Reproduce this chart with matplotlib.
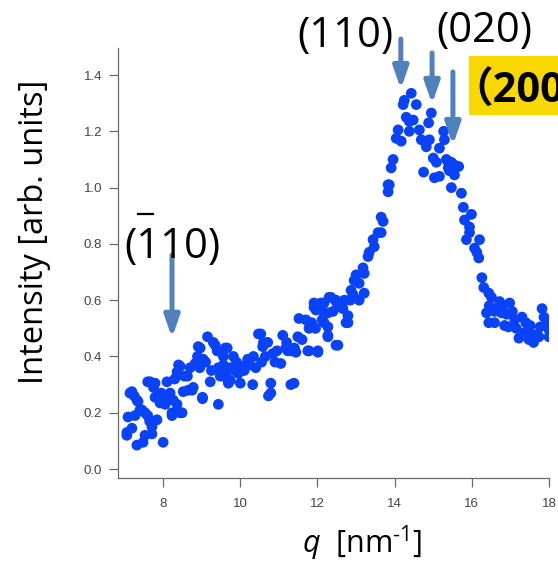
import matplotlib.pyplot as plt
from matplotlib.lines import Line2D
from matplotlib.patches import Rectangle

plt.rcParams['font.family'] = ['Open Sans', 'Noto Sans CJK SC', 'DejaVu Sans']
plt.rcParams['mathtext.fontset'] = 'custom'
plt.rcParams['mathtext.rm'] = 'Open Sans'
plt.rcParams['mathtext.it'] = 'Open Sans:italic'

# scattering vector q [nm^-1] and intensity [arb. units]
q = [7.06, 7.06, 7.09, 7.14, 7.19, 7.19, 7.27, 7.32, 7.32, 7.35, 7.40, 7.48, 7.53, 7.53,
     7.60, 7.60, 7.66, 7.71, 7.71, 7.79, 7.79, 7.84, 7.87, 7.92, 8.00,
     7.25, 7.45, 7.65, 7.75, 7.95,
     8.05, 8.10, 8.13, 8.23, 8.26, 8.23, 8.36, 8.36, 8.40, 8.44, 8.44, 8.49, 8.52, 8.63,
     8.65, 8.75, 8.78, 8.83, 8.89, 8.91, 8.96, 9.02, 9.02, 9.04,
     8.18, 8.30, 8.55, 8.70, 8.95,
     9.15, 9.22, 9.30, 9.35, 9.43, 9.43, 9.48, 9.56, 9.56, 9.61, 9.61, 9.66, 9.66, 9.69,
     9.74, 9.74, 9.82, 9.95, 10.00, 10.00,
     9.10, 9.25, 9.40, 9.50, 9.85, 9.90,
     10.19, 10.19, 10.32, 10.34, 10.47, 10.53, 10.58, 10.60, 10.71, 10.73, 10.79, 10.79,
     10.84, 11.05,
     10.10, 10.25, 10.40, 10.55, 10.65, 10.90, 10.95,
     11.10, 11.18, 11.23, 11.31, 11.31, 11.39, 11.44, 11.49, 11.52, 11.75, 11.78, 11.78,
     11.91, 11.91, 11.96, 12.01, 12.01,
     11.20, 11.40, 11.60, 11.70, 11.85, 11.95,
     12.09, 12.09, 12.17, 12.17, 12.17, 12.27, 12.27, 12.27, 12.27, 12.30, 12.35, 12.48,
     12.48, 12.48, 12.53, 12.61, 12.61, 12.66, 12.74, 12.79, 12.79, 12.87, 12.92, 12.95,
     12.12, 12.40, 12.55, 12.70, 12.85,
     13.00, 13.08, 13.08, 13.18, 13.21, 13.21, 13.31, 13.34, 13.44, 13.47, 13.57, 13.65,
     13.65, 13.70, 13.83, 13.83, 13.86, 13.91, 13.96,
     14.04, 14.09, 14.17, 14.22, 14.25, 14.30, 14.38, 14.38, 14.43, 14.48, 14.56, 14.64,
     14.69, 14.75, 14.82, 14.88, 14.90, 14.95, 15.00,
     15.03, 15.08, 15.16, 15.16, 15.27, 15.29, 15.34, 15.39, 15.39, 15.42, 15.47, 15.47,
     15.55, 15.55, 15.66, 15.73, 15.78, 15.81, 15.86, 15.94, 15.94, 15.99,
     16.07, 16.13, 16.18, 16.20, 16.26, 16.31, 16.38, 16.44, 16.44, 16.51, 16.59, 16.59,
     16.72, 16.77, 16.85, 16.95, 16.98,
     16.45, 16.62, 16.80, 16.90,
     17.11, 17.22, 17.30, 17.37, 17.48, 17.51, 17.60, 17.64, 17.74, 17.77, 17.82, 17.87,
     18.00, 18.00,
     17.05, 17.15, 17.40, 17.55, 17.95]
intensity = [0.120, 0.130, 0.185, 0.270, 0.145, 0.275, 0.190, 0.245, 0.085, 0.240, 0.210,
             0.095, 0.200, 0.120, 0.190, 0.310, 0.310, 0.150, 0.125, 0.305, 0.255, 0.175,
             0.255, 0.235, 0.095,
             0.260, 0.210, 0.170, 0.290, 0.270,
             0.230, 0.310, 0.245, 0.190, 0.245, 0.200, 0.345, 0.230, 0.370, 0.200, 0.365,
             0.200, 0.275, 0.330, 0.280, 0.280, 0.290, 0.375, 0.400, 0.435, 0.430, 0.255,
             0.250, 0.390,
             0.270, 0.320, 0.330, 0.360, 0.360,
             0.470, 0.310, 0.450, 0.440, 0.230, 0.360, 0.330, 0.370, 0.400, 0.430, 0.340,
             0.430, 0.320, 0.305, 0.360, 0.315, 0.400, 0.340, 0.365, 0.305,
             0.380, 0.350, 0.420, 0.340, 0.350, 0.380,
             0.380, 0.390, 0.300, 0.400, 0.480, 0.480, 0.435, 0.450, 0.450, 0.260, 0.305,
             0.270, 0.410, 0.375,
             0.350, 0.370, 0.360, 0.380, 0.400, 0.380, 0.420,
             0.475, 0.430, 0.420, 0.300, 0.420, 0.305, 0.415, 0.470, 0.535, 0.420, 0.500,
             0.420, 0.590, 0.575, 0.565, 0.420, 0.415,
             0.450, 0.430, 0.460, 0.530, 0.520, 0.500,
             0.575, 0.590, 0.520, 0.590, 0.555, 0.555, 0.470, 0.505, 0.475, 0.610, 0.610,
             0.440, 0.595, 0.600, 0.440, 0.585, 0.575, 0.570, 0.520, 0.545, 0.520, 0.635,
             0.620, 0.670,
             0.530, 0.560, 0.580, 0.600, 0.600,
             0.690, 0.660, 0.600, 0.715, 0.695, 0.625, 0.755, 0.770, 0.815, 0.790, 0.840,
             0.840, 0.895, 0.880, 1.010, 0.985, 1.010, 1.070, 1.100,
             1.175, 1.205, 1.165, 1.295, 1.310, 1.250, 1.235, 1.200, 1.335, 1.240, 1.295,
             1.205, 1.170, 1.055, 1.145, 1.230, 1.170, 1.265, 1.105,
             1.035, 1.090, 1.140, 1.040, 1.200, 1.170, 1.100, 1.070, 1.090, 1.060, 1.090,
             1.000, 1.045, 1.080, 1.075, 0.980, 0.930, 0.885, 0.815, 0.860, 0.840, 0.905,
             0.785, 0.770, 0.750, 0.815, 0.680, 0.645, 0.555, 0.625, 0.520, 0.610, 0.520,
             0.560, 0.595, 0.555, 0.510, 0.505, 0.590,
             0.580, 0.570, 0.580, 0.550,
             0.530, 0.465, 0.540, 0.485, 0.460, 0.510, 0.450, 0.475, 0.470, 0.505, 0.570,
             0.540, 0.495, 0.470,
             0.560, 0.500, 0.520, 0.480, 0.520]

# reflection arrows: q position, arrow tail height, arrow tip height
peaks_q = [14.16, 14.97, 15.51, 8.23]
arrow_top = [1.528, 1.478, 1.411, 0.760]
arrow_tip = [1.350, 1.297, 1.151, 0.466]

W, H = 558, 565
fig = plt.figure(figsize=(W / 100, H / 100), dpi=100)
ax = fig.add_axes([118 / W, 1 - 477.5 / H, 431 / W, 429.5 / H])

ax.scatter(q, intensity, s=60, color='#0a42f8', edgecolors='none', zorder=3)

ax.set_xlim(6.83, 18.0)
ax.set_ylim(-0.030, 1.496)
ax.set_xticks([8, 10, 12, 14, 16, 18])
ax.set_yticks([0.0, 0.2, 0.4, 0.6, 0.8, 1.0, 1.2, 1.4])
ax.yaxis.set_major_formatter(plt.FormatStrFormatter('%.1f'))
for s in ['top', 'right']:
    ax.spines[s].set_visible(False)
for s in ['left', 'bottom']:
    ax.spines[s].set_color('#6a6a6a')
    ax.spines[s].set_linewidth(0.9)
ax.tick_params(axis='both', colors='#6a6a6a', labelcolor='#444444', length=6.5,
               width=0.9, labelsize=9.5)
ax.tick_params(axis='x', pad=8.5)
ax.tick_params(axis='y', pad=5)
for lab in ax.get_xticklabels() + ax.get_yticklabels():
    lab.set_family('Liberation Sans')

fig.text(35 / W, 1 - 232 / H, 'Intensity [arb. units]', rotation=90,
         ha='center', va='center', fontsize=23.5)
fig.text(362 / W, 1 - 543 / H, '$q$  [nm$^{\u20101}$]',
         ha='center', va='center', fontsize=22)

# arrows pointing at the reflections
for x0, y0, y1 in zip(peaks_q, arrow_top, arrow_tip):
    ax.annotate('', xy=(x0, y1), xytext=(x0, y0), annotation_clip=False,
                arrowprops=dict(arrowstyle='-|>,head_width=0.45,head_length=1.3',
                                color='#4f81bd', lw=3.6, shrinkA=0, shrinkB=0))

def fig_text(x, y, s, **kw):
    fig.text(x / W, 1 - y / H, s, ha='left', va='baseline', fontsize=30, **kw)

fig_text(297, 47, '(110)')
fig_text(436, 42, '(020)')
fig_text(124, 258, '(110)')
fig.add_artist(Line2D([138 / W, 153 / W], [1 - 214 / H, 1 - 214 / H],
                      color='black', lw=1.6))

fig.add_artist(Rectangle((469 / W, 1 - 115 / H), 100 / W, 59 / H,
                         facecolor='#f9d800', edgecolor='none',
                         transform=fig.transFigure))
fig_text(451, 103, '（200）', fontweight='bold')

fig.savefig('out.png', dpi=100)
